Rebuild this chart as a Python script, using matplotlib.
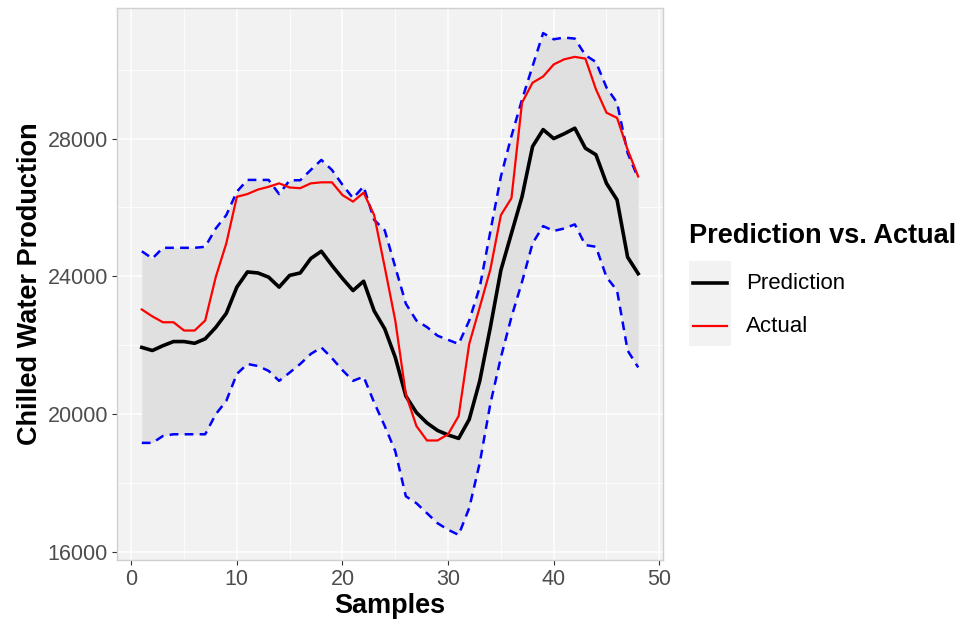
import numpy as np
import matplotlib as mpl
mpl.use('Agg')
import matplotlib.pyplot as plt
from matplotlib.lines import Line2D
from matplotlib.patches import Rectangle

plt.rcParams['font.family'] = ['Liberation Sans', 'DejaVu Sans']

samples = np.arange(1, 49)

prediction = [21940, 21850, 21990, 22110, 22110, 22060, 22190, 22520, 22930, 23690,
              24130, 24100, 23980, 23690, 24030, 24100, 24520, 24730, 24320, 23940,
              23590, 23860, 23000, 22480, 21650, 20530, 20050, 19750, 19530, 19400,
              19300, 19850, 20970, 22520, 24180, 25250, 26310, 27770, 28260, 28000,
              28140, 28300, 27720, 27530, 26700, 26220, 24560, 24080]

actual = [23040, 22840, 22670, 22670, 22430, 22430, 22720, 23980, 24960, 26310,
          26390, 26520, 26600, 26700, 26580, 26560, 26700, 26730, 26730, 26360,
          26170, 26430, 25780, 24270, 22720, 20580, 19660, 19240, 19240, 19420,
          19950, 22040, 23110, 24200, 25780, 26270, 29040, 29620, 29800, 30150,
          30300, 30370, 30320, 29430, 28750, 28600, 27680, 26900]

upper = [24730, 24520, 24830, 24830, 24830, 24830, 24860, 25390, 25780, 26460,
         26800, 26800, 26800, 26390, 26790, 26790, 27090, 27380, 27090, 26660,
         26270, 26610, 25640, 25340, 24270, 23210, 22720, 22530, 22280, 22160,
         22040, 22720, 23690, 25300, 26900, 28070, 29130, 30100, 31060, 30880,
         30930, 30900, 30420, 30220, 29480, 29040, 27580, 26850]

lower = [19170, 19170, 19370, 19420, 19420, 19420, 19420, 20000, 20390, 21170,
         21460, 21400, 21260, 20970, 21210, 21460, 21750, 21940, 21630, 21280,
         20970, 21090, 20340, 19660, 18930, 17620, 17420, 17130, 16840, 16650,
         16500, 17280, 18590, 20300, 21650, 22820, 23840, 24960, 25460, 25320,
         25390, 25510, 24910, 24860, 23980, 23590, 21850, 21360]

W, H = 972, 620
fig = plt.figure(figsize=(W / 100, H / 100), dpi=100)
ax = fig.add_axes([117 / W, 1 - 560 / H, (663 - 117) / W, (560 - 8) / H])

ax.set_facecolor('#F2F2F2')
ax.fill_between(samples, lower, upper, color='#E0E0E0', linewidth=0, zorder=2)
ax.plot(samples, upper, color='#0000FF', linewidth=1.8, dashes=(3.5, 2.5), zorder=3)
ax.plot(samples, lower, color='#0000FF', linewidth=1.8, dashes=(3.5, 2.5), zorder=3)
ax.plot(samples, prediction, color='black', linewidth=2.6, zorder=4)
ax.plot(samples, actual, color='#FF0000', linewidth=1.6, zorder=5)

# ggplot style limits (5% expansion)
lo = min(lower); hi = max(upper)
pad = (hi - lo) * 0.05
ax.set_ylim(lo - pad, hi + pad)
xpad = (samples[-1] - samples[0]) * 0.05
ax.set_xlim(samples[0] - xpad, samples[-1] + xpad)

ax.set_xticks(np.arange(0, 51, 10))
ax.set_xticks(np.arange(5, 51, 10), minor=True)
ax.set_yticks(np.arange(16000, 28001, 4000))
ax.set_yticks(np.arange(18000, 30001, 4000), minor=True)
ax.grid(True, which='major', color='white', linewidth=1.1, zorder=1)
ax.grid(True, which='minor', color='white', linewidth=0.6, zorder=1)
ax.set_axisbelow(True)

ax.tick_params(axis='both', which='major', labelsize=15.5, labelcolor='#4D4D4D',
               color='#333333', length=3.5, width=0.8, pad=3)
ax.tick_params(axis='both', which='minor', length=0)
for s in ax.spines.values():
    s.set_color('#D0D0D0')
    s.set_linewidth(1.0)

ax.set_xlabel('Samples', fontsize=19.5, fontweight='bold', labelpad=2)
ax.set_ylabel('Chilled Water Production', fontsize=19.5, fontweight='bold', labelpad=3)

# legend drawn by hand, ggplot look
def fx(px):
    return px / W

def fy(py):
    return 1 - py / H

fig.text(fx(689), fy(236), 'Prediction vs. Actual', fontsize=19.5, fontweight='bold',
         va='center', ha='left')
fig.add_artist(Rectangle((fx(689), fy(346)), fx(731) - fx(689), fy(261) - fy(346),
                         transform=fig.transFigure, facecolor='#F2F2F2', edgecolor='none'))
fig.add_artist(Line2D([fx(693), fx(727)], [fy(283), fy(283)], transform=fig.transFigure,
                      color='black', linewidth=2.6))
fig.add_artist(Line2D([fx(693), fx(727)], [fy(326), fy(326)], transform=fig.transFigure,
                      color='#FF0000', linewidth=1.6))
fig.text(fx(746), fy(283), 'Prediction', fontsize=16, va='center', ha='left')
fig.text(fx(746), fy(326), 'Actual', fontsize=16, va='center', ha='left')

fig.savefig('out.png', dpi=100)
